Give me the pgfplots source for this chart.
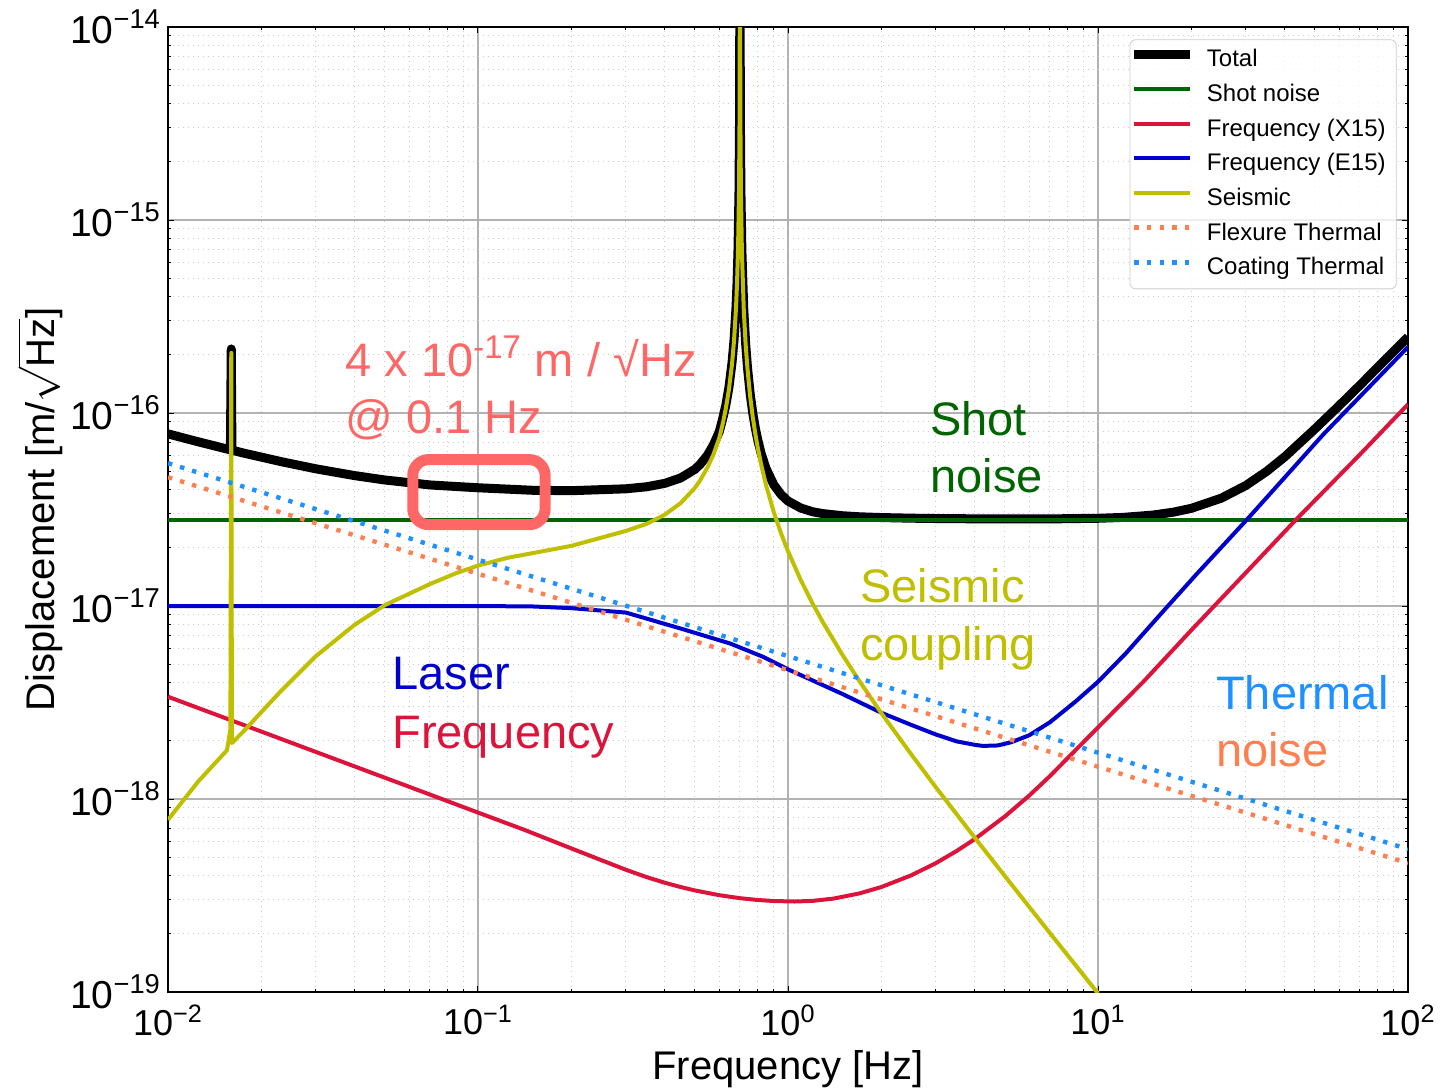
\documentclass[border=0pt]{standalone}
\usepackage{fontspec}
\setmainfont{Liberation Sans}
\usepackage{pgfplots}
\pgfplotsset{compat=1.18}

\definecolor{shotc}{RGB}{0,100,0}
\definecolor{xfc}{RGB}{220,20,60}
\definecolor{efc}{RGB}{0,0,205}
\definecolor{seisc}{RGB}{191,191,0}
\definecolor{flexc}{RGB}{255,127,80}
\definecolor{coatc}{RGB}{30,144,255}
\definecolor{annc}{RGB}{255,102,102}

\newcommand{\tl}[1]{10\textsuperscript{#1}}

\begin{document}
\begin{tikzpicture}
\begin{axis}[
  scale only axis, width=620pt, height=482.5pt,
  xmode=log, ymode=log,
  xmin=0.01, xmax=100, ymin=1e-19, ymax=1e-14,
  xtick={0.01,0.1,1,10,100},
  xticklabels={\tl{−2},\tl{−1},\tl{0},\tl{1},\tl{2}},
  ytick={1e-19,1e-18,1e-17,1e-16,1e-15,1e-14},
  yticklabels={\tl{−19},\tl{−18},\tl{−17},\tl{−16},\tl{−15},\tl{−14}},
  minor xtick={0.02,0.03,0.04,0.05,0.06,0.07,0.08,0.09,0.2,0.3,0.4,0.5,0.6,0.7,0.8,0.9,2,3,4,5,6,7,8,9,20,30,40,50,60,70,80,90},
  minor ytick={2e-19,3e-19,4e-19,5e-19,6e-19,7e-19,8e-19,9e-19,
               2e-18,3e-18,4e-18,5e-18,6e-18,7e-18,8e-18,9e-18,
               2e-17,3e-17,4e-17,5e-17,6e-17,7e-17,8e-17,9e-17,
               2e-16,3e-16,4e-16,5e-16,6e-16,7e-16,8e-16,9e-16,
               2e-15,3e-15,4e-15,5e-15,6e-15,7e-15,8e-15,9e-15},
  grid=both,
  major grid style={gray!60, line width=0.7pt},
  minor grid style={gray!40, line width=0.5pt, dotted},
  tick align=inside,
  major tick length=3pt, minor tick length=1.5pt,
  tick style={black, line width=0.5pt},
  axis line style={line width=0.7pt},
  xticklabel style={font=\fontsize{18}{21}\selectfont, yshift=-3pt},
  yticklabel style={font=\fontsize{19.5}{22}\selectfont},
  xlabel={Frequency [Hz]},
  ylabel={Displacement [m/$\sqrt{\hbox{Hz}}$]},
  label style={font=\fontsize{20}{24}\selectfont},
  xlabel style={at={(axis description cs:0.5,0)}, anchor=center, yshift=-38.5pt},
  ylabel style={at={(axis description cs:-0.1032,0.5)}, anchor=center, inner sep=1pt},
  legend style={at={(rel axis cs:0.9909,0.9873)}, anchor=north east,
    draw=black!20, rounded corners=3pt, fill=white, fill opacity=0.8, text opacity=1,
    font=\fontsize{12}{14}\selectfont, row sep=4.85pt, inner xsep=0pt, inner ysep=4pt,
    nodes={inner sep=0pt, text height=9.5pt, text depth=3pt}},
  legend cell align=left,
  legend image code/.code={\draw[#1, line cap=butt] (0pt,3pt) -- (28pt,3pt);},
  /tikz/every odd column/.append style={column sep=6pt},
]
% total
\addplot[black, line width=4.5pt, line join=round] coordinates {
 (0.01,7.80e-17) (0.0125,7.10e-17) (0.0155,6.51e-17) (0.0159,6.45e-17) (0.016,2.148e-16)
 (0.01608,6.42e-17) (0.0177,6.18e-17) (0.02,5.91e-17) (0.0233,5.59e-17) (0.03,5.14e-17)
 (0.04,4.74e-17) (0.05,4.50e-17) (0.07,4.24e-17) (0.1,4.10e-17) (0.15,3.98e-17)
 (0.2,3.96e-17) (0.3,4.05e-17) (0.35,4.149e-17) (0.4,4.32e-17) (0.45,4.604e-17)
 (0.5,5.10e-17) (0.52,5.409e-17) (0.55,6.05e-17) (0.575,6.857e-17) (0.6,7.99e-17)
 (0.615,9.274e-17) (0.63,1.095e-16) (0.645,1.359e-16) (0.66,1.826e-16) (0.67,2.403e-16)
 (0.68,3.563e-16) (0.685,4.727e-16) (0.69,7.056e-16) (0.695,1.4053e-15) (0.698,3.505e-15)
 (0.7,3e-14) (0.702,3.495e-15) (0.705,1.3953e-15) (0.71,6.956e-16) (0.72,3.462e-16)
 (0.73,2.303e-16) (0.74,1.727e-16) (0.755,1.261e-16) (0.77,9.98e-17) (0.785,8.313e-17)
 (0.8,7.18e-17) (0.82,6.136e-17) (0.85,5.15e-17) (0.9,4.25e-17) (0.95,3.779e-17)
 (1,3.50e-17) (1.1,3.218e-17) (1.2,3.08e-17) (1.3,3.010e-17) (1.5,2.936e-17)
 (1.7,2.900e-17) (2,2.874e-17) (2.5,2.852e-17) (3,2.841e-17) (4,2.831e-17)
 (5,2.827e-17) (7,2.828e-17) (10,2.849e-17) (12,2.878e-17) (15,2.959e-17)
 (17.5,3.064e-17) (20,3.208e-17) (25,3.623e-17) (30,4.215e-17) (35,4.987e-17)
 (40,5.925e-17) (50,8.25e-17) (60,1.093e-16) (70,1.394e-16) (85,1.91e-16) (100,2.48e-16)};
\addlegendentry{Total}
% shot noise
\addplot[shotc, line width=2pt] coordinates {(0.01,2.8e-17) (100,2.8e-17)};
\addlegendentry{Shot noise}
% laser frequency, X15
\addplot[xfc, line width=2pt, line join=round] coordinates {
 (0.01,3.39e-18) (0.02,2.237e-18) (0.03,1.754e-18) (0.05,1.291e-18) (0.07,1.055e-18)
 (0.1,8.51e-19) (0.14,6.96e-19) (0.2,5.55e-19) (0.3,4.30e-19) (0.35,3.94e-19)
 (0.4,3.687e-19) (0.45,3.502e-19) (0.5,3.363e-19) (0.6,3.176e-19) (0.7,3.064e-19)
 (0.8,2.998e-19) (0.9,2.962e-19) (1.05,2.945e-19) (1.2,2.967e-19) (1.4,3.048e-19)
 (1.7,3.244e-19) (2,3.50e-19) (2.5,4.027e-19) (3,4.657e-19) (3.5,5.381e-19)
 (4,6.197e-19) (5,8.111e-19) (6,1.042e-18) (7,1.316e-18) (8,1.636e-18)
 (10,2.35e-18) (14,4.05e-18) (20,7.5e-18) (30,1.49e-17) (43.5,2.8e-17)
 (70,6.1e-17) (100,1.11e-16)};
\addlegendentry{Frequency (X15)}
% laser frequency, E15
\addplot[efc, line width=2pt, line join=round] coordinates {
 (0.01,1.0e-17) (0.05,1.0e-17) (0.1,1.0e-17) (0.15,9.95e-18) (0.2,9.75e-18)
 (0.3,9.25e-18) (0.45,7.65e-18) (0.65,6.4e-18) (0.83,5.46e-18) (1,4.7e-18)
 (1.5,3.5e-18) (2,2.8e-18) (2.5,2.42e-18) (3,2.16e-18) (3.5,1.99e-18) (4,1.91e-18)
 (4.25,1.885e-18) (4.75,1.895e-18) (5.25,1.97e-18) (6,2.14e-18) (7,2.5e-18)
 (8.5,3.22e-18) (10,4.05e-18) (12.3,5.69e-18) (16,9.16e-18) (20.9,1.476e-17)
 (30.2,2.8e-17) (53.3,7.75e-17) (100,2.2e-16)};
\addlegendentry{Frequency (E15)}
% seismic
\addplot[seisc, line width=2pt, line join=round] coordinates {
 (0.01,7.8e-19) (0.0125,1.23e-18) (0.0155,1.79e-18) (0.0159,2.3e-18) (0.016,2.05e-16)
 (0.01608,1.95e-18) (0.0177,2.28e-18) (0.02,2.82e-18) (0.0233,3.67e-18) (0.026,4.37e-18)
 (0.03,5.5e-18) (0.035,6.72e-18) (0.04,8.0e-18) (0.045,9.04e-18) (0.05,1.01e-17)
 (0.06,1.158e-17) (0.07,1.30e-17) (0.085,1.48e-17) (0.1,1.62e-17) (0.125,1.78e-17)
 (0.15,1.88e-17) (0.2,2.05e-17) (0.3,2.45e-17) (0.35,2.667e-17) (0.4,2.97e-17)
 (0.45,3.409e-17) (0.5,4.08e-17) (0.52,4.463e-17) (0.55,5.23e-17) (0.575,6.1e-17)
 (0.6,7.4e-17) (0.615,8.7e-17) (0.63,1.053e-16) (0.645,1.325e-16) (0.66,1.80e-16)
 (0.67,2.384e-16) (0.68,3.55e-16) (0.685,4.717e-16) (0.69,7.05e-16) (0.695,1.405e-15)
 (0.698,3.505e-15) (0.7,3e-14) (0.702,3.495e-15) (0.705,1.395e-15) (0.71,6.95e-16)
 (0.72,3.45e-16) (0.73,2.284e-16) (0.74,1.70e-16) (0.755,1.225e-16) (0.77,9.52e-17)
 (0.785,7.764e-17) (0.8,6.53e-17) (0.82,5.373e-17) (0.85,4.215e-17) (0.9,3.063e-17)
 (0.95,2.376e-17) (1,1.922e-17) (1.1,1.361e-17) (1.2,1.032e-17) (1.3,8.167e-18)
 (1.5,5.57e-18) (1.7,4.083e-18) (2,2.79e-18) (2.5,1.701e-18) (3,1.15e-18)
 (4,6.32e-19) (5,4.0e-19) (7,2.02e-19) (10,9.85e-20)};
\addlegendentry{Seismic}
% thermal
\addplot[flexc, line width=2.2pt, dash pattern=on 2.2pt off 4.1pt] coordinates {(0.01,4.65e-17) (100,4.65e-19)};
\addlegendentry{Flexure Thermal}
\addplot[coatc, line width=2.2pt, dash pattern=on 2.2pt off 4.1pt] coordinates {(0.01,5.5e-17) (100,5.5e-19)};
\addlegendentry{Coating Thermal\hspace*{6pt}}

% annotations
\draw[annc, line width=5.5pt, rounded corners=8pt] (axis cs:0.0616,5.74e-17) rectangle (axis cs:0.1647,2.64e-17);
\node[annc, anchor=base west, inner sep=0pt, font=\fontsize{23.5}{27}\selectfont] at (rel axis cs:0.1427,0.638) {4 x 10\textsuperscript{-17} m / √Hz};
\node[annc, anchor=base west, inner sep=0pt, font=\fontsize{23.5}{27}\selectfont] at (rel axis cs:0.1427,0.579) {@ 0.1 Hz};
\node[shotc, anchor=base west, inner sep=0pt, font=\fontsize{23.5}{27}\selectfont] at (rel axis cs:0.6145,0.577) {Shot};
\node[shotc, anchor=base west, inner sep=0pt, font=\fontsize{23.5}{27}\selectfont] at (rel axis cs:0.6145,0.518) {noise};
\node[seisc, anchor=base west, inner sep=0pt, font=\fontsize{23.5}{27}\selectfont] at (rel axis cs:0.558,0.404) {Seismic};
\node[seisc, anchor=base west, inner sep=0pt, font=\fontsize{23.5}{27}\selectfont] at (rel axis cs:0.558,0.344) {coupling};
\node[efc, anchor=base west, inner sep=0pt, font=\fontsize{23.5}{27}\selectfont] at (rel axis cs:0.1806,0.313) {Laser};
\node[xfc, anchor=base west, inner sep=0pt, font=\fontsize{23.5}{27}\selectfont] at (rel axis cs:0.1806,0.2528) {Frequency};
\node[coatc, anchor=base west, inner sep=0pt, font=\fontsize{23.5}{27}\selectfont] at (rel axis cs:0.845,0.293) {Thermal};
\node[flexc, anchor=base west, inner sep=0pt, font=\fontsize{23.5}{27}\selectfont] at (rel axis cs:0.845,0.234) {noise};
\end{axis}
\pgfresetboundingbox
\path ([shift={(-84pt,-49pt)}]current axis.south west) rectangle ([shift={(18.5pt,13.5pt)}]current axis.north east);
\end{tikzpicture}
\end{document}
